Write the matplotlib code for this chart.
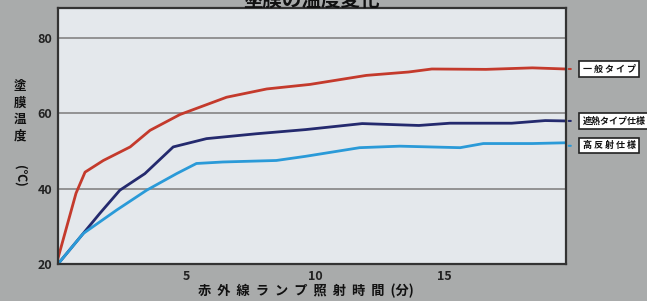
import matplotlib
matplotlib.use("Agg")
import matplotlib.pyplot as plt

plt.rcParams['font.family'] = ['Noto Sans CJK JP', 'DejaVu Sans']

# elapsed time (min) and coating temperature (deg C)
t_general = [0, 0.7, 1.05, 1.76, 2.8, 3.57, 4.73, 6.54, 8.1, 9.77, 11.96, 13.6, 14.5, 16.6, 18.4, 19.7]
T_general = [21.5, 38.8, 44.4, 47.5, 51.1, 55.5, 59.7, 64.3, 66.5, 67.7, 70.1, 71.0, 71.8, 71.7, 72.1, 71.8]

t_shield = [0, 1.63, 2.4, 3.37, 4.47, 5.76, 7.7, 9.6, 11.8, 14.0, 15.2, 17.6, 18.9, 19.7]
T_shield = [20, 33.5, 39.6, 44.0, 51.1, 53.3, 54.6, 55.7, 57.3, 56.8, 57.4, 57.4, 58.1, 58.0]

t_reflect = [0, 0.98, 2.27, 3.44, 4.6, 5.37, 6.4, 8.47, 9.6, 11.7, 13.26, 15.6, 16.5, 18.4, 19.7]
T_reflect = [20, 28.1, 34.3, 39.6, 44.0, 46.7, 47.1, 47.5, 48.6, 50.9, 51.3, 50.9, 52.0, 52.0, 52.2]

series_names = ["一 般 タ イ プ", "遮熱タイプ仕様", "高 反 射 仕 様"]
colors = ["#c43a2c", "#242a6e", "#2a9ad8"]

x_ticks = [5, 10, 15]
y_ticks = [20, 40, 60, 80]

fig = plt.figure(figsize=(6.47, 3.01), dpi=100, facecolor="#a9abab")
ax = fig.add_axes([0.0896, 0.1229, 0.785, 0.8505], facecolor="#e4e8ec")

for tt, TT, c in zip([t_general, t_shield, t_reflect],
                     [T_general, T_shield, T_reflect], colors):
    ax.plot(tt, TT, color=c, lw=2.0, solid_joinstyle="round")

ax.set_xlim(0, 19.7)
ax.set_ylim(20, 88)
ax.set_xticks(x_ticks)
ax.set_yticks(y_ticks)
ax.tick_params(length=0, labelsize=9, colors="#222222", pad=4)
for lab in ax.get_xticklabels() + ax.get_yticklabels():
    lab.set_fontweight("bold")
ax.grid(axis="y", color="#8c8c8c", lw=1.3)
ax.set_axisbelow(True)
for s in ax.spines.values():
    s.set_color("#333333")
    s.set_linewidth(1.6)

# title, cut off at the top edge like the reference
fig.text(0.482, 1.0, "塗膜の温度変化", ha="center", va="center",
         fontsize=14, fontweight="bold", color="#111111")

# y label, stacked vertically
fig.text(0.031, 0.63, "塗\n膜\n温\n度", ha="center", va="center",
         fontsize=9, fontweight="bold", linespacing=1.35, color="#111111")
fig.text(0.031, 0.415, "(℃)", ha="center", va="center", rotation=270,
         fontsize=9, fontweight="bold", color="#111111")

# x label
fig.text(0.472, 0.033, "赤  外  線  ラ  ン  プ  照  射  時  間  (分)", ha="center", va="center",
         fontsize=9.5, fontweight="bold", color="#111111")

# series labels on the right
label_y = [T_general[-1], T_shield[-1], T_reflect[-1] - 0.8]
for name, y, c in zip(series_names, label_y, colors):
    ax.annotate("", xy=(19.7, y), xycoords="data", xytext=(20.0, y),
                arrowprops=dict(arrowstyle="-", color=c, lw=1.5), annotation_clip=False)
    ax.annotate(name, xy=(19.7, y), xycoords="data", xytext=(12, 0),
                textcoords="offset points", ha="left", va="center",
                fontsize=6.5, fontweight="bold", color="#111111", annotation_clip=False,
                bbox=dict(boxstyle="square,pad=0.35", fc="white", ec="#222222", lw=1.2))

fig.savefig("out.png", dpi=100, facecolor=fig.get_facecolor())
